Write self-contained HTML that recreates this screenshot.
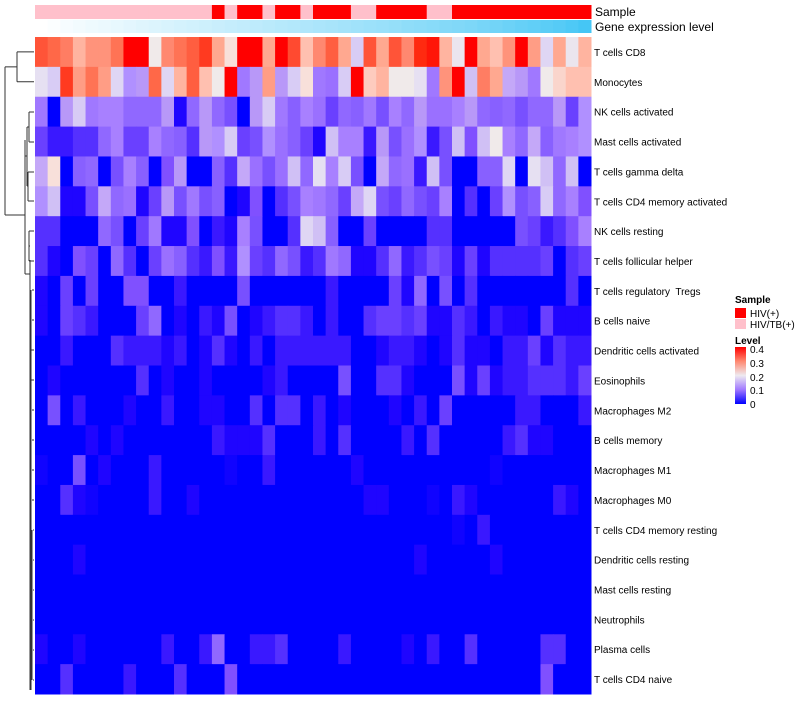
<!DOCTYPE html>
<html><head><meta charset="utf-8"><style>
body{margin:0;background:#fff;width:800px;height:700px;overflow:hidden;font-family:"Liberation Sans",sans-serif}
svg text{font-family:"Liberation Sans",sans-serif;white-space:pre}
</style></head><body>
<svg id="chart" width="800" height="700" xmlns="http://www.w3.org/2000/svg">
<g id="dendro" stroke="#333" stroke-width="1" fill="none"></g>
<g id="annot"></g>
<g id="cells"></g>
<g id="rowlabels"></g>
<text x="595" y="16" font-size="12">Sample</text>
<text x="595" y="31" font-size="12">Gene expression level</text>
<g>
<text x="735" y="303" font-size="10" font-weight="bold">Sample</text>
<rect x="735" y="308" width="11" height="10" fill="#ff0000"/>
<text x="750" y="317" font-size="10">HIV(+)</text>
<rect x="735" y="319" width="11" height="10" fill="#ffc0cb"/>
<text x="750" y="328" font-size="10">HIV/TB(+)</text>
<text x="735" y="344" font-size="10" font-weight="bold">Level</text>
<defs><linearGradient id="lg" x1="0" y1="1" x2="0" y2="0">
<stop offset="0" stop-color="#0000ff"/><stop offset="0.25" stop-color="#a078ff"/><stop offset="0.5" stop-color="#eeeaf0"/><stop offset="0.75" stop-color="#ff8870"/><stop offset="1" stop-color="#ff0000"/></linearGradient></defs>
<rect x="735" y="347" width="11" height="57" fill="url(#lg)"/>
<g font-size="10">
<text x="750" y="353">0.4</text><text x="750" y="367">0.3</text><text x="750" y="381">0.2</text><text x="750" y="394">0.1</text><text x="750" y="408">0</text></g>
</g>
</svg>
<script>
const rowNames=["T cells CD8","Monocytes","NK cells activated","Mast cells activated","T cells gamma delta","T cells CD4 memory activated","NK cells resting","T cells follicular helper","T cells regulatory  Tregs","B cells naive","Dendritic cells activated","Eosinophils","Macrophages M2","B cells memory","Macrophages M1","Macrophages M0","T cells CD4 memory resting","Dendritic cells resting","Mast cells resting","Neutrophils","Plasma cells","T cells CD4 naive"];
const sampleGroup="TTTTTTTTTTTTTTHTHHTHHTHHHTTHHHHTTHHHHHHHHHHH".split("");
const geneExpr=[0,0.02,0.05,0.07,0.09,0.11,0.13,0.15,0.17,0.19,0.21,0.23,0.25,0.27,0.29,0.31,0.33,0.35,0.37,0.39,0.41,0.43,0.45,0.47,0.49,0.51,0.53,0.55,0.57,0.6,0.62,0.64,0.66,0.68,0.7,0.73,0.76,0.79,0.82,0.85,0.88,0.91,0.95,1];
// values in hundredths (0..40 => 0..0.40)
const rowCD8=[35,33,31,26,29,29,32,40,40,21,30,32,34,37,27,22,40,40,27,40,36,25,30,34,27,17,35,27,35,30,38,39,26,20,40,27,25,29,40,28,18,27,20,26];
const rowMono=[19,17,37,28,32,28,18,12,13,33,18,26,34,25,21,40,10,13,28,13,17,22,10,9,17,40,24,26,21,21,19,10,29,40,16,31,27,14,13,10,21,23,25,25];
const rowNKact=[10,0,13,17,10,11,11,8,8,8,13,1,8,13,8,5,0,13,17,10,7,11,9,4,8,7,10,5,11,8,13,9,9,11,13,8,7,8,5,8,8,13,4,12];
const rowMastAct=[4,2,2,3,3,8,11,4,4,11,8,7,3,13,12,17,4,5,12,9,7,4,1,16,11,11,2,13,5,9,12,2,5,16,6,16,21,11,8,14,7,10,11,12];
const rowGD=[14,22,0,7,8,0,5,11,7,0,6,13,0,0,7,3,14,9,5,9,16,8,19,11,17,5,0,14,8,9,2,16,5,0,0,7,7,18,0,19,16,8,16,0];
const rowCD4MA=[12,16,1,1,5,14,8,9,1,4,13,5,10,5,7,0,1,6,0,3,5,11,10,8,4,14,18,5,4,8,5,4,11,0,3,0,4,12,5,7,17,8,11,6];
const rowNKrest=[3,3,0,0,0,8,5,0,4,10,1,1,6,0,2,1,11,5,0,0,3,18,16,7,0,0,4,0,0,0,0,3,3,0,0,0,0,0,5,4,2,3,6,11];
const rowTfh=[3,1,0,6,4,0,8,3,0,4,9,7,3,2,6,2,12,4,3,8,5,2,3,10,8,1,1,3,8,2,3,5,4,1,4,1,3,3,3,3,4,0,3,4];
const rowTreg=[1,0,4,0,4,0,0,6,6,0,0,2,0,0,0,0,5,0,0,0,0,0,0,2,0,0,0,0,4,1,8,0,5,0,3,0,0,0,0,0,0,0,3,0];
const rowBnaive=[1,0,4,3,2,0,0,0,4,8,0,1,0,2,1,5,0,1,2,3,3,2,0,2,0,0,3,4,4,3,4,1,1,3,2,0,2,1,1,0,4,1,1,1];
const rowDCact=[0,0,2,0,0,0,3,2,2,2,1,2,0,1,3,1,0,2,0,2,2,2,2,2,2,0,0,1,2,2,1,0,1,3,1,1,0,2,2,4,1,3,2,2];
const rowEos=[0,1,0,0,0,0,0,0,3,0,1,0,0,1,0,0,0,0,1,2,0,0,0,0,5,0,0,3,3,1,0,0,0,5,1,4,1,2,2,3,3,3,2,4];
const rowM2=[0,5,0,2,0,0,0,1,0,0,2,0,0,1,1,0,0,3,0,3,3,0,2,0,1,0,0,0,1,0,2,0,4,0,0,0,0,0,2,2,0,0,0,2];
const rowBmem=[0,0,0,0,1,0,1,0,0,0,0,0,0,0,2,1,1,1,3,0,0,0,2,0,3,0,0,0,0,2,0,3,0,0,0,0,0,2,3,1,1,0,0,0];
const rowM1=[0.5,0,0,5,0,1,0,0,0,2,0,0,0,0,0,0.5,0,0,2,0,0,0,0,0,0,1,0,0,0,0,0,0,0,0,0,0,0.5,0,0,0,0,0,0,0];
const rowM0=[0,0,3,1,0.5,0,0,0,0,2,0,0,1,0,0,0,0,0,0,0,0,0,0,0,0,0,1,1,0,0,0,0.5,0,2,1,0,0,0,0,0,0,2,1,0];
const rowCD4MR=[0,0,0,0,0,0,0,0,0,0,0,0,0,0,0,0,0,0,0,0,0,0,0,0,0,0,0,0,0,0,0,0,0,0.5,0,2,0,0,0,0,0,0,0,0];
const rowDCrest=[0,0,0,1,0,0,0,0,0,0,0,0,0,0,0,0,0,0,0,0,0,0,0,0,0,0,0,0,0,0,1,0,0,0,0,0,1,0,0,0,0,0,0,0];
const rowMastRest=[0,0,0,0,0,0,0,0,0,0,0,0,0,0,0,0,0,0,0,0,0,0,0,0,0,0,0,0,0,0,0,0,0,0,0,0,0,0,0,0,0,0,0,0];
const rowNeut=[0,0,0,0,0,0,0,0,0,0,0,0,0,0,0,0,0,0,0,0,0,0,0,0,0,0,0,0,0,0,0,0,0,0,0,0,0,0,0,0,0,0,0,0];
const rowPlasma=[1,0,0,1,0,0,0,0,0,0,2,0,0,2,8,0,0,2,2,3,0,0,0,0,2,0,0,0,0,1,0,2,0,0,3,0,0,0,0,0,3,3,0,0];
const rowCD4N=[0,0,3,0,0,0,0,2,0,0,0,3,0,0,0,6,0,0,0,0,0,0,0,0,0,0,0,0,0,0,0,0,0,0,0,0,0,0,0,0,6,0,0,0];
const values=[rowCD8,rowMono,rowNKact,rowMastAct,rowGD,rowCD4MA,rowNKrest,rowTfh,rowTreg,rowBnaive,rowDCact,rowEos,rowM2,rowBmem,rowM1,rowM0,rowCD4MR,rowDCrest,rowMastRest,rowNeut,rowPlasma,rowCD4N];

const X0=35,X1=591,Y0=37,Y1=694;
const nCol=sampleGroup.length, nRow=rowNames.length;
const cw=(X1-X0)/nCol, rh=(Y1-Y0)/nRow;
const xPos=i=>X0+i*cw, yPos=r=>Y0+r*rh;
const stops=[[0,"#0000ff"],[0.01,"#1f05ff"],[0.02,"#3a18ff"],[0.03,"#5530ff"],[0.04,"#6a40ff"],[0.05,"#7850ff"],[0.06,"#8050ff"],[0.07,"#8860ff"],[0.08,"#9068ff"],[0.09,"#9a70ff"],[0.10,"#a078ff"],[0.11,"#a880ff"],[0.12,"#b090ff"],[0.13,"#b898f8"],[0.14,"#c4a8f8"],[0.16,"#d0c0f5"],[0.17,"#d8ccf5"],[0.19,"#e6e0f2"],[0.21,"#f0eaea"],[0.22,"#f8e0da"],[0.25,"#ffc0b0"],[0.27,"#ffa890"],[0.30,"#ff8870"],[0.33,"#ff6848"],[0.36,"#ff4a30"],[0.38,"#ff2a10"],[0.40,"#ff0000"]];
function hx(c){return [1,3,5].map(i=>parseInt(c.substr(i,2),16));}
function color(v){
  if(v<=0)return stops[0][1];
  for(let k=1;k<stops.length;k++){if(v<=stops[k][0]){const [a,ca]=stops[k-1],[b,cb]=stops[k];const t=(v-a)/(b-a);const A=hx(ca),B=hx(cb);return "rgb("+A.map((x,j)=>Math.round(x+(B[j]-x)*t)).join(",")+")";}}
  return "#ff0000";
}
const NS="http://www.w3.org/2000/svg";
const cells=document.getElementById("cells");
values.forEach((row,r)=>row.forEach((v,c)=>{
  const el=document.createElementNS(NS,"rect");
  el.setAttribute("x",xPos(c));el.setAttribute("y",yPos(r));
  el.setAttribute("width",cw+0.5);el.setAttribute("height",rh+0.5);
  el.setAttribute("fill",color(v/100));
  
  
  cells.appendChild(el);
}));
const annot=document.getElementById("annot");
sampleGroup.forEach((g,c)=>{
  const el=document.createElementNS(NS,"rect");
  el.setAttribute("x",xPos(c));el.setAttribute("y",5);el.setAttribute("width",cw+0.5);el.setAttribute("height",14);
  el.setAttribute("fill",g==="H"?"#ff0000":"#ffc0cb");
  
  
  annot.appendChild(el);
});
geneExpr.forEach((v,c)=>{
  const el=document.createElementNS(NS,"rect");
  el.setAttribute("x",xPos(c));el.setAttribute("y",20);el.setAttribute("width",cw+0.5);el.setAttribute("height",13);
  const A=[255,255,255],B=[69,198,245];
  el.setAttribute("fill","rgb("+A.map((x,j)=>Math.round(x+(B[j]-x)*v)).join(",")+")");
  
  
  annot.appendChild(el);
});
const rl=document.getElementById("rowlabels");
rowNames.forEach((n,r)=>{
  const t=document.createElementNS(NS,"text");
  t.setAttribute("x",594);t.setAttribute("y",yPos(r)+rh/2+4);t.setAttribute("font-size","10");
  t.setAttributeNS("http://www.w3.org/XML/1998/namespace","xml:space","preserve");
  t.textContent=n;
  
  
  rl.appendChild(t);
});
// dendrogram (structure approximated)
const d=document.getElementById("dendro");
const cy=r=>yPos(r)+rh/2;
const segs=[
 [34,cy(0),17,cy(0)],[34,cy(1),17,cy(1)],[17,cy(0),17,cy(1)],
 [17,(cy(0)+cy(1))/2,5,(cy(0)+cy(1))/2],[5,(cy(0)+cy(1))/2,5,215],[5,215,25,215],
 [25,140,25,274],[25,274,30,274],[30,260,30,690],
 [29,112,34,112],[29,142,34,142],[29,112,29,142],[27,127,29,127],
 [28,172,34,172],[28,201,34,201],[28,172,28,201],[27,186,28,186],[27,127,27,186],[25,156,27,156],
 [29,231,34,231],[29,261,34,261],[29,231,29,261],[30,246,29,246],
 [32,290,34,290],[32,320,34,320],[31,290,31,690],[31,350,34,350],[31,380,34,380],[32,410,34,410],[32,440,34,440],[32,470,34,470],[32,500,34,500],
 [33,530,34,530],[33,560,34,560],[33,590,34,590],[33,620,34,620],[33,650,34,650],[33,680,34,680],[32,530,32,680]
];
segs.forEach(s=>{
  const l=document.createElementNS(NS,"line");
  l.setAttribute("x1",s[0]);l.setAttribute("y1",s[1]);l.setAttribute("x2",s[2]);l.setAttribute("y2",s[3]);
  
  
  d.appendChild(l);
});
</script>
</body></html>
